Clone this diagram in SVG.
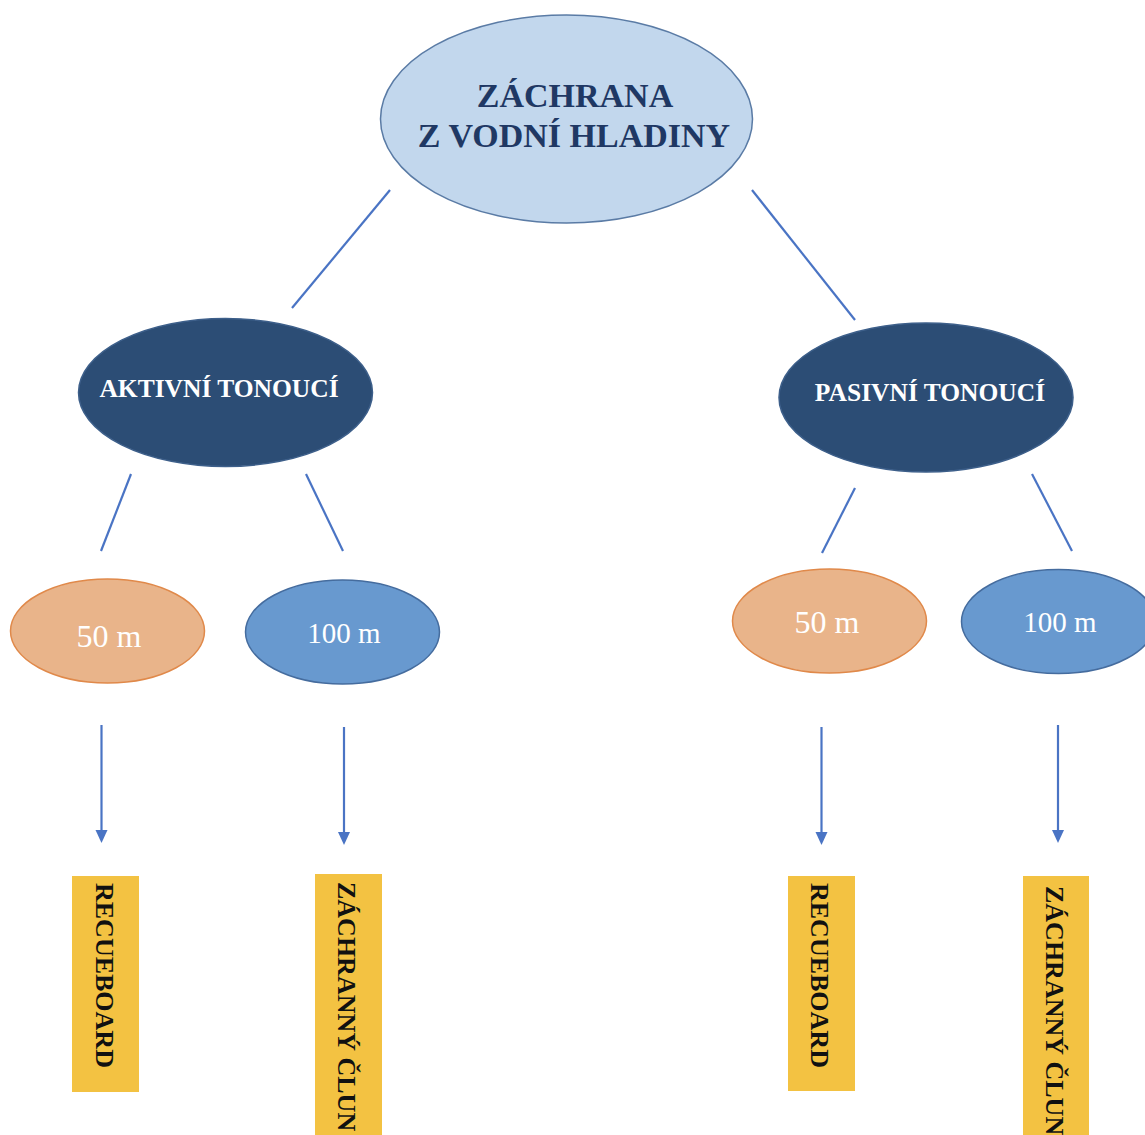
<svg xmlns="http://www.w3.org/2000/svg" width="1145" height="1135" viewBox="0 0 1145 1135">
<style>
.t{font-family:"Liberation Serif","Times New Roman",serif;}
.b{font-weight:bold;}
.ln{stroke:#4a74c4;stroke-width:2.2;fill:none;}
.dark{fill:#2c4d75;stroke:#3d5f8a;stroke-width:1.5;}
.org{fill:#e9b48a;stroke:#e0894a;stroke-width:1.5;}
.blu{fill:#6899cf;stroke:#456c9e;stroke-width:1.5;}
.box{fill:#f3c242;}
.wt{fill:#ffffff;}
.vt{fill:#111111;font-size:26px;}
</style>
<defs>
<marker id="ah" markerWidth="12" markerHeight="12" refX="6" refY="10" orient="auto" markerUnits="userSpaceOnUse" viewBox="0 0 12 12">
<path d="M0,0 L12,0 L6,12 Z" fill="#4a74c4" transform="rotate(-90 6 6)"/>
</marker>
</defs>
<rect width="1145" height="1135" fill="#ffffff"/>
<g id="connectors">
<line class="ln" x1="390" y1="190" x2="292" y2="308"/>
<line class="ln" x1="752" y1="190" x2="855" y2="320"/>
<line class="ln" x1="131" y1="474" x2="101" y2="551"/>
<line class="ln" x1="306" y1="474" x2="343" y2="551"/>
<line class="ln" x1="855" y1="488" x2="822" y2="553"/>
<line class="ln" x1="1032" y1="474" x2="1072" y2="551"/>
<g fill="#4a74c4">
<line class="ln" x1="101.5" y1="725" x2="101.5" y2="832"/>
<path d="M95.5,830 L107.5,830 L101.5,843 Z"/>
<line class="ln" x1="344" y1="727" x2="344" y2="834"/>
<path d="M338,832 L350,832 L344,845 Z"/>
<line class="ln" x1="821.5" y1="727" x2="821.5" y2="834"/>
<path d="M815.5,832 L827.5,832 L821.5,845 Z"/>
<line class="ln" x1="1058" y1="725" x2="1058" y2="832"/>
<path d="M1052,830 L1064,830 L1058,843 Z"/>
</g>
</g>
<g id="root">
<ellipse cx="566.5" cy="119" rx="186" ry="104" fill="#c2d7ed" stroke="#5a7ba5" stroke-width="1.5"/>
<text class="t b" x="575" y="107" font-size="34" fill="#1f3864" text-anchor="middle">ZÁCHRANA</text>
<text class="t b" x="574" y="147" font-size="34" fill="#1f3864" text-anchor="middle">Z VODNÍ HLADINY</text>
</g>
<g id="aktivni">
<ellipse class="dark" cx="225.5" cy="392.5" rx="147" ry="74"/>
<text class="t b wt" x="219" y="397" font-size="25.5" text-anchor="middle">AKTIVNÍ TONOUCÍ</text>
</g>
<g id="pasivni">
<ellipse class="dark" cx="926" cy="397.5" rx="147" ry="74.5"/>
<text class="t b wt" x="930" y="401" font-size="25.5" text-anchor="middle">PASIVNÍ TONOUCÍ</text>
</g>
<g id="a50">
<ellipse class="org" cx="107.5" cy="631" rx="97" ry="52"/>
<text class="t wt" x="109" y="647" font-size="32" text-anchor="middle">50 m</text>
</g>
<g id="a100">
<ellipse class="blu" cx="342.5" cy="632" rx="97" ry="52"/>
<text class="t wt" x="344" y="643" font-size="29" text-anchor="middle">100 m</text>
</g>
<g id="p50">
<ellipse class="org" cx="829.5" cy="621" rx="97" ry="52"/>
<text class="t wt" x="827" y="633" font-size="32" text-anchor="middle">50 m</text>
</g>
<g id="p100">
<ellipse class="blu" cx="1058.5" cy="621.5" rx="97" ry="52"/>
<text class="t wt" x="1060" y="632" font-size="29" text-anchor="middle">100 m</text>
</g>
<g id="a-board">
<rect class="box" x="72" y="876" width="67" height="216"/>
<text class="t b vt" transform="translate(105 883) rotate(90)" x="0" y="8.6">RECUEBOARD</text>
</g>
<g id="a-clun">
<rect class="box" x="315" y="874" width="67" height="270"/>
<text class="t b vt" transform="translate(347 882) rotate(90)" x="0" y="8.6">ZÁCHRANNÝ ČLUN</text>
</g>
<g id="p-board">
<rect class="box" x="788" y="876" width="67" height="215"/>
<text class="t b vt" transform="translate(820 883) rotate(90)" x="0" y="8.6">RECUEBOARD</text>
</g>
<g id="p-clun">
<rect class="box" x="1023" y="876" width="66" height="270"/>
<text class="t b vt" transform="translate(1055 886) rotate(90)" x="0" y="8.6">ZÁCHRANNÝ ČLUN</text>
</g>
</svg>
